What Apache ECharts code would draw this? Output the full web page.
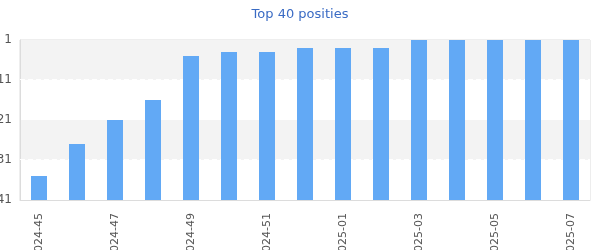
<!DOCTYPE html>
<html>
<head>
<meta charset="utf-8">
<script src="https://cdn.jsdelivr.net/npm/echarts@6/dist/echarts.min.js"></script>
<style>html,body{margin:0;padding:0;background:#fff}#c{width:600px;height:250px}</style>
</head>
<body>
<div id="c"></div>
<script>
var weeks = ['2024-45','2024-46','2024-47','2024-48','2024-49','2024-50','2024-51','2024-52','2025-01','2025-02','2025-03','2025-04','2025-05','2025-06','2025-07'];
var positions = [35, 27, 21, 16, 5, 4, 4, 3, 3, 3, 1, 1, 1, 1, 1];
var rankTicks = [1, 11, 21, 31, 41];
var bottomRank = 41;
var title = 'Top 40 posities';

// bars grow up from the bottom rank: plotted height = bottomRank + 1 - position
var plotted = positions.map(function (p) { return bottomRank + 1 - p; });

var chart = echarts.init(document.getElementById('c'), null, {renderer: 'canvas'});
chart.setOption({
  animation: false,
  title: {
    text: title, left: 'center', top: 3,
    textStyle: {color: '#3a6bc4', fontSize: 13, fontWeight: 'normal', fontFamily: 'DejaVu Sans'}
  },
  grid: {left: 20, right: 10, top: 40, bottom: 50, containLabel: false, outerBoundsMode: 'none',
    show: true, borderColor: '#dcdcdc', borderWidth: 1, backgroundColor: 'transparent'},
  xAxis: {
    type: 'category', data: weeks,
    axisLine: {lineStyle: {color: '#dcdcdc'}},
    axisTick: {show: false},
    axisLabel: {rotate: 90, interval: 1, color: '#555', fontSize: 11, fontFamily: 'DejaVu Sans', margin: 13}
  },
  yAxis: {
    type: 'value', min: 1, max: bottomRank, interval: 10,
    axisLine: {show: true, lineStyle: {color: '#dcdcdc'}},
    axisTick: {show: false},
    axisLabel: {
      color: '#555', fontSize: 12, fontFamily: 'DejaVu Sans', margin: 8,
      formatter: function (v) { var r = bottomRank + 1 - v; return rankTicks.indexOf(r) >= 0 ? String(r) : ''; }
    },
    splitLine: {show: false},
    splitArea: {show: true, areaStyle: {color: ['#ffffff', '#f3f3f3']}}
  },
  series: [{
    type: 'bar', data: plotted, barWidth: 16,
    itemStyle: {color: '#62a9f5'},
    markLine: {
      silent: true, symbol: 'none', label: {show: false}, z: 1,
      lineStyle: {color: '#ffffff', type: [5, 3], width: 1},
      data: [{yAxis: bottomRank + 1 - 11 + 0.1}, {yAxis: bottomRank + 1 - 31 + 0.1}]
    }
  }]
});
</script>
</body>
</html>
